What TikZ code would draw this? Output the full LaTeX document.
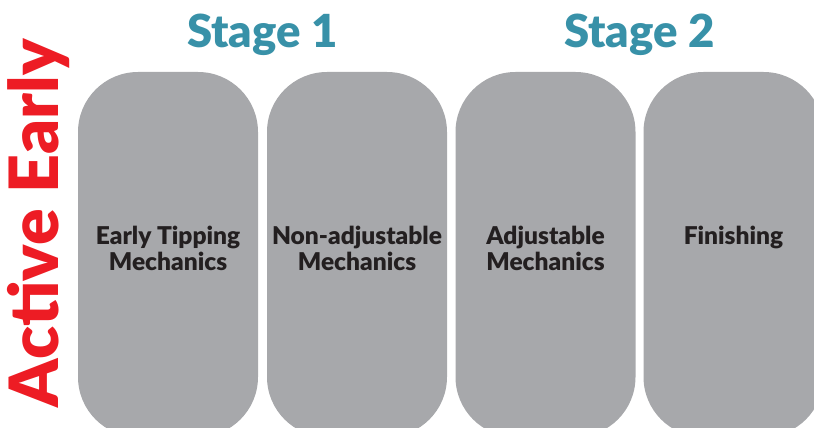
\documentclass[tikz,border=0pt]{standalone}
\usepackage{fontspec}
\setmainfont{Lato}
\newfontfamily\heavy{Lato Black}
\usetikzlibrary{positioning}
\definecolor{stagecol}{RGB}{56,145,168}
\definecolor{activecol}{RGB}{237,28,36}
\definecolor{boxcol}{RGB}{167,168,171}
\definecolor{textcol}{RGB}{35,31,32}
\tikzstyle{phase} = [rectangle, fill=boxcol, rounded corners=60pt,
    minimum width=180pt, minimum height=365pt, inner sep=0pt]
\tikzstyle{label} = [text=textcol, font=\heavy\fontsize{24.5}{26}\selectfont,
    align=center, inner sep=0pt, anchor=north]
\tikzstyle{stage} = [text=stagecol, font=\heavy\fontsize{45.5}{45.5}\selectfont,
    inner sep=0pt, anchor=base]
\begin{document}
\begin{tikzpicture}[x=1pt, y=1pt]
        \useasboundingbox (0,0) rectangle (814,428);
        % Place nodes
        % 1. The four phases
        \node [phase] (tipp) at (168,173.5) {};
        \node [phase] (nadj) at (357,173.5) {};
        \node [phase] (adju) at (545.5,173.5) {};
        \node [phase] (fini) at (733.5,173.5) {};
        
        % 2. Phase names
        \node [label, below=154pt of tipp.north] (ltipp) {Early Tipping\\Mechanics};
        \node [label, below=154pt of nadj.north] (lnadj) {Non-adjustable\\Mechanics};
        \node [label, below=154pt of adju.north] (ladju) {Adjustable\\Mechanics};
        \node [label, below=154pt of fini.north] (lfini) {Finishing};
        
        % 3. Stage titles
        \node [stage] (sone) at (262.5,380) {Stage 1};
        \node [stage] (stwo) at (639.5,380) {Stage 2};
        
        % 4. Side title
        \node [text=activecol, font=\heavy\fontsize{68}{68}\selectfont,
               inner sep=0pt, anchor=base, rotate=90] (actv) at (58,205) {Active Early};
      \end{tikzpicture}
\end{document}
